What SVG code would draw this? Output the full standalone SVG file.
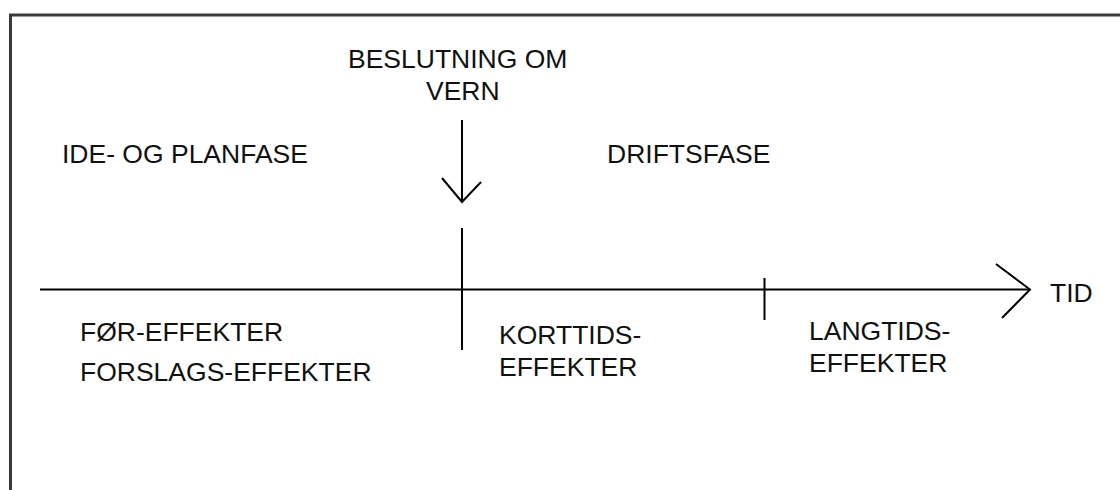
<svg xmlns="http://www.w3.org/2000/svg" width="1120" height="490" viewBox="0 0 1120 490">
<style>
.t{font-family:"Liberation Sans",Arial,sans-serif;font-size:26.5px;fill:#111}
.ln{stroke:#000;stroke-width:2;fill:none}
.fr{stroke:#3a3a3a;stroke-width:3;fill:none}
</style>
<rect width="1120" height="490" fill="#fff"/>
<g id="frame">
<path class="fr" d="M10.5,490 V15 H1120"/>
</g>
<g id="connectors">
<path class="ln" d="M40,289.5 H1030"/>
<path class="ln" d="M996,264 L1030,289.5 L1002,318"/>
<path class="ln" d="M462,120 V202"/>
<path class="ln" d="M442,178 L462,202 L481,182"/>
<path class="ln" d="M462,228 V350"/>
<path class="ln" d="M764.5,278 V320"/>
</g>
<g id="decision">
<text class="t" x="348" y="68">BESLUTNING OM</text>
<text class="t" x="426" y="100">VERN</text>
</g>
<g id="planfase"><text class="t" x="62" y="163">IDE- OG PLANFASE</text></g>
<g id="driftsfase"><text class="t" x="607" y="163">DRIFTSFASE</text></g>
<g id="tid"><text class="t" x="1050" y="302">TID</text></g>
<g id="foreffekter">
<text class="t" x="80" y="341">FØR-EFFEKTER</text>
<text class="t" x="80" y="381">FORSLAGS-EFFEKTER</text>
</g>
<g id="korttid">
<text class="t" x="499" y="344">KORTTIDS-</text>
<text class="t" x="499" y="376">EFFEKTER</text>
</g>
<g id="langtid">
<text class="t" x="809" y="340">LANGTIDS-</text>
<text class="t" x="809" y="372">EFFEKTER</text>
</g>
</svg>
